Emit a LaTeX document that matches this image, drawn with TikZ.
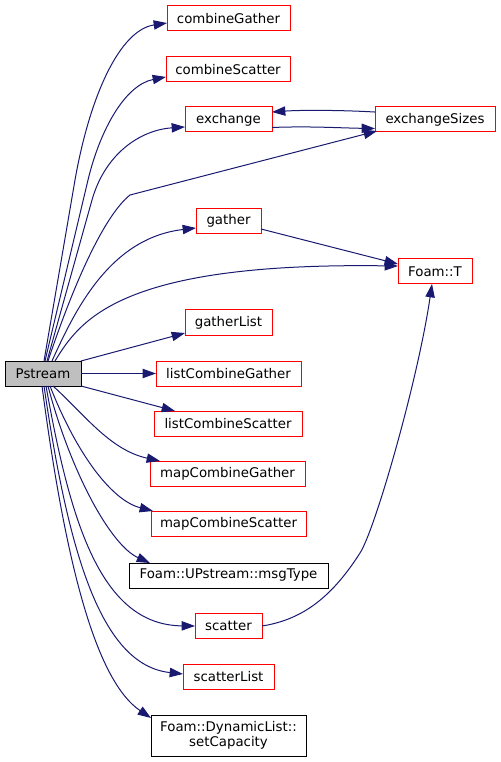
\documentclass[tikz,border=0pt]{standalone}
\usepackage{fontspec}
\setmainfont{DejaVu Sans}
\usetikzlibrary{arrows.meta}
\definecolor{edgeblue}{HTML}{191970}
\definecolor{boxgray}{HTML}{BFBFBF}
\begin{document}
\begin{tikzpicture}[x=0.75pt,y=-0.75pt,
  box/.style={draw,line width=0.75pt,inner sep=0pt,outer sep=0pt,minimum height=18.75pt,
    font=\fontsize{10pt}{11.25pt}\selectfont,align=center},
  redbox/.style={box,draw=red},
  blackbox/.style={box,draw=black},
  e/.style={draw=edgeblue,line width=0.75pt,-{Triangle[length=10pt,width=7pt]}}]
\useasboundingbox (0,0) rectangle (500,762);

\node[blackbox,fill=boxgray,minimum width=57pt] (P) at (43,373.5) {Pstream};
\node[redbox,minimum width=92.25pt] (cG) at (228.5,18.5) {combineGather};
\node[redbox,minimum width=93pt] (cS) at (228,69.5) {combineScatter};
\node[redbox,minimum width=65.25pt] (ex) at (228.5,119.5) {exchange};
\node[redbox,minimum width=90pt] (eS) at (435,119.5) {exchangeSizes};
\node[redbox,minimum width=48.75pt] (g) at (228.5,221) {gather};
\node[redbox,minimum width=55.5pt] (T) at (435,271.5) {Foam::T};
\node[redbox,minimum width=65.25pt] (gL) at (228.5,322.5) {gatherList};
\node[redbox,minimum width=108.75pt] (lCG) at (228.5,373.5) {listCombineGather};
\node[redbox,minimum width=111pt] (lCS) at (228,423.5) {listCombineScatter};
\node[redbox,minimum width=116.25pt] (mCG) at (227.5,473.5) {mapCombineGather};
\node[redbox,minimum width=116.25pt] (mCS) at (228.5,523.5) {mapCombineScatter};
\node[blackbox,minimum width=149.25pt] (msg) at (228.5,575.5) {Foam::UPstream::msgType};
\node[redbox,minimum width=50.25pt] (sc) at (228.5,626) {scatter};
\node[redbox,minimum width=68.25pt] (scL) at (228.5,676.5) {scatterList};
\node[blackbox,minimum width=116.25pt,minimum height=30.75pt] (sC) at (228.5,735.5) {Foam::DynamicList::\\setCapacity};

% upper edges
\draw[e] ([xshift=0.75pt]P.north) -- (75,180) .. controls (90,95) and (120,30) .. ([yshift=-3.4pt]cG.west);
\draw[e] ([xshift=1.5pt]P.north) -- (88,180) .. controls (100,130) and (125,85) .. ([yshift=-5.6pt]cS.west);
\draw[e] ([xshift=3pt]P.north) -- (92,200) .. controls (105,154) and (140,130) .. ([yshift=-5.6pt]ex.west);
\draw[e] ([xshift=3.75pt]P.north) .. controls (75,280) and (105,215) .. (130,195) -- ([xshift=1.5pt,yshift=0.75pt]eS.south west);
\draw[e] ([xshift=6.75pt]P.north) .. controls (75,310) and (110,238) .. ([yshift=-5.25pt]g.west);
\draw[e] ([xshift=9pt]P.north) .. controls (80,320) and (120,262) .. ([yshift=4.1pt]T.west);
\draw[e] (P.north east) -- ([yshift=-7.9pt]gL.west);
\draw[e] (P.east) -- (lCG.west);
\draw[e] (P.south east) -- ([xshift=15.75pt]lCS.north west);

% lower edges
\draw[e] ([xshift=7.5pt]P.south) .. controls (85,415) and (110,450) .. ([xshift=7.5pt]mCG.north west);
\draw[e] ([xshift=5.25pt]P.south) .. controls (75,450) and (110,500) .. ([xshift=1.5pt]mCS.north west);
\draw[e] ([xshift=3.75pt]P.south) .. controls (70,470) and (110,545) .. ([xshift=15.75pt]msg.north west);
\draw[e] ([xshift=2.25pt]P.south) .. controls (70,520) and (100,625) .. (sc.west);
\draw[e] ([xshift=0.75pt]P.south) .. controls (68,550) and (100,665) .. ([yshift=1.9pt]scL.west);
\draw[e] ([xshift=-0.75pt]P.south) .. controls (65,560) and (95,680) .. ([yshift=-2.25pt]sC.north west);

% other edges
\draw[e] ([yshift=-6pt]ex.east) .. controls (310,126) and (340,128) .. ([yshift=-6.75pt]eS.west);
\draw[e] ([yshift=5.6pt]eS.west) .. controls (340,110) and (300,110) .. ([yshift=5.6pt]ex.east);
\draw[e] ([yshift=-6pt]g.east) -- ([yshift=5.6pt]T.west);
\draw[e] (sc.east) .. controls (300,620) and (330,600) .. (360,553) .. controls (375,530) and (418,380) .. ([xshift=-2.25pt]T.south);
\end{tikzpicture}
\end{document}
